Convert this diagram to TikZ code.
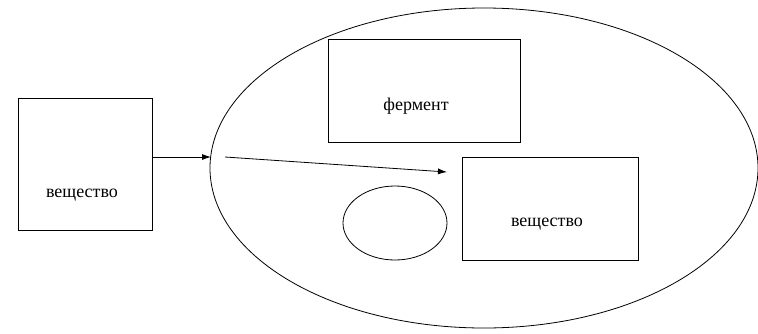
\documentclass[tikz,border=0pt]{standalone}
\usepackage{fontspec}
\setmainfont{Liberation Serif}
\usetikzlibrary{arrows.meta,shapes.geometric}
\begin{document}
\begin{tikzpicture}[x=1pt,y=-1pt,
  box/.style={draw, line width=1pt, inner sep=0pt, anchor=north west},
  lbl/.style={font=\fontsize{18}{20}\selectfont, inner sep=0pt},
  oval/.style={draw, line width=0.8pt, ellipse, inner sep=0pt},
  arr/.style={line width=0.8pt, -{Latex[length=9pt,width=6pt]}}]
\useasboundingbox (0,0) rectangle (758,333);
\begin{scope}
\clip (0,0) rectangle (758,333);
\node[oval, minimum width=548pt, minimum height=320pt] (cell) at (484,168) {};
\end{scope}
\node[box, minimum width=134pt, minimum height=132pt] (src) at (18,98) {};
\node[lbl] (srct) at (82,195) {вещество};
\node[box, minimum width=192pt, minimum height=103pt] (enz) at (328,39) {};
\node[lbl] (enzt) at (416,106) {фермент};
\node[box, minimum width=176pt, minimum height=103pt] (prod) at (462,157) {};
\node[lbl] (prodt) at (547,224) {вещество};
\node[oval, minimum width=104pt, minimum height=74pt] (small) at (395,223) {};
\coordinate (a1) at (211,157);
\coordinate (b0) at (225,157);
\coordinate (b1) at (447,172);
\draw[arr] (src.east |- a1) -- (a1);
\draw[arr] (b0) -- (b1);
\end{tikzpicture}
\end{document}
